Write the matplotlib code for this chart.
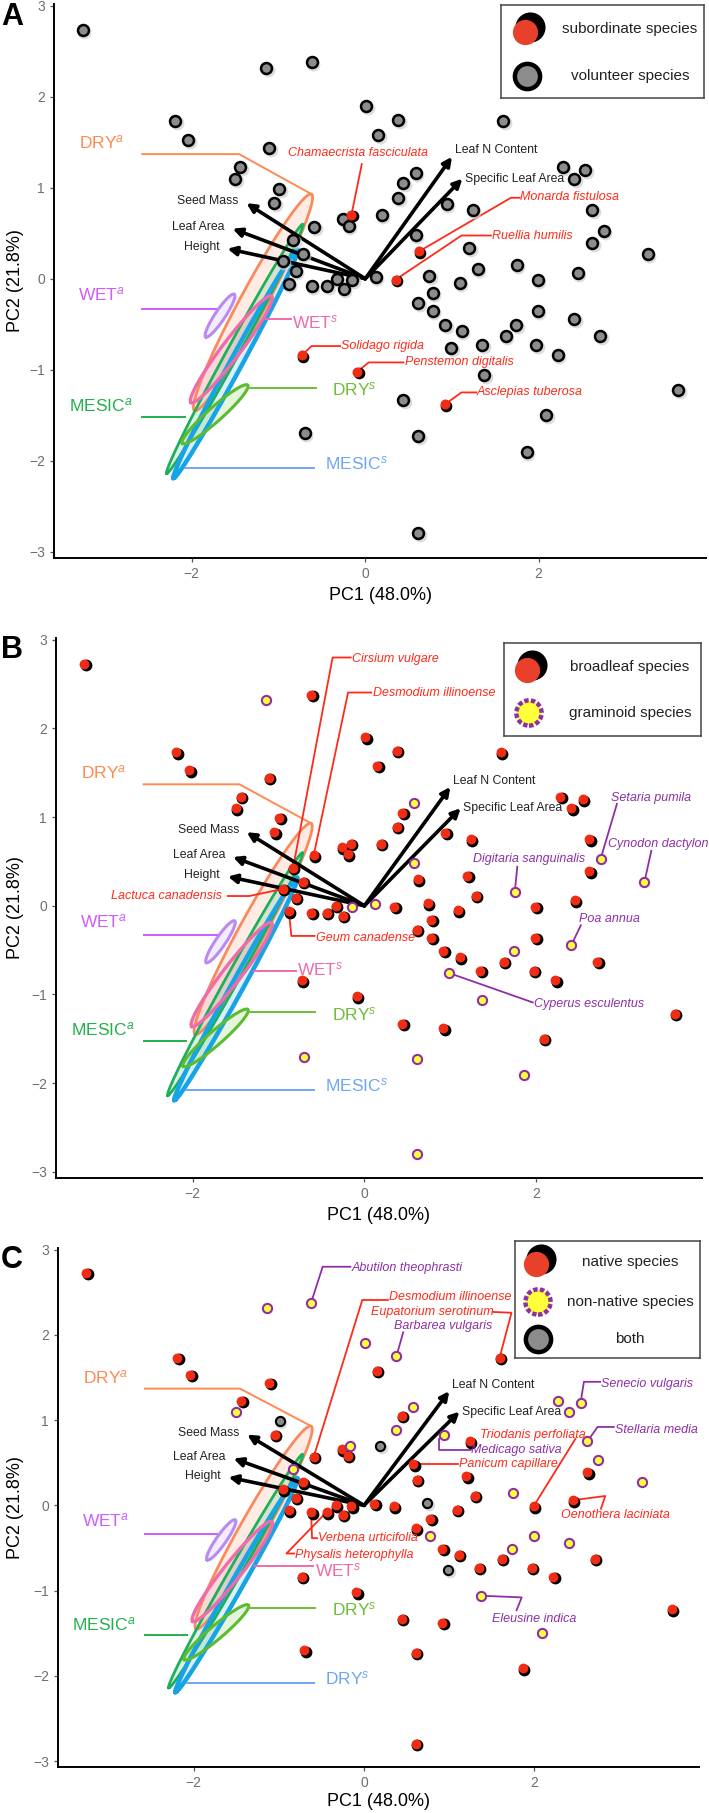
import numpy as np
import matplotlib
matplotlib.use("Agg")
import matplotlib.pyplot as plt
from matplotlib.transforms import offset_copy

plt.rcParams["font.family"] = ["Liberation Sans", "DejaVu Sans"]
plt.rcParams["mathtext.fontset"] = "custom"
plt.rcParams["mathtext.rm"] = "Liberation Sans"
plt.rcParams["mathtext.it"] = "Liberation Sans:italic"

W, H, DPI = 709, 1813, 100

# species scores (same ordination in every panel)
pc1 = [-3.26, -1.14, -0.62, 0.01, 0.38, 0.15, 1.59, -2.19, -2.04, -1.11,
       -1.44, -1.50, -0.99, -1.05, 0.58, 0.44, 0.38, 0.94, 0.19, -0.26,
       -0.19, -0.16, -0.59, -0.83, -0.72, -0.95, -0.80, -0.88, -0.62, -0.44,
       -0.33, -0.25, -0.15, 0.12, 0.35, 0.58, 0.62, 0.74, 0.78, 0.61,
       0.78, 0.92, 1.11, 1.09, 1.20, 1.30, 1.24, 1.75, 1.99, 1.99,
       1.74, 1.62, 1.35, 0.99, 1.97, 2.22, 2.41, 2.45, 2.62, 2.75,
       2.62, 2.28, 2.41, 2.54, 3.26, 2.71, 3.61, 1.37, 2.09, 1.86,
       0.61, 0.44, 0.92, -0.09, -0.73, -0.70, 0.61]
pc2 = [2.73, 2.32, 2.38, 1.90, 1.75, 1.58, 1.73, 1.73, 1.53, 1.44,
       1.23, 1.10, 0.99, 0.83, 1.16, 1.05, 0.89, 0.82, 0.70, 0.66,
       0.58, 0.70, 0.57, 0.43, 0.27, 0.19, 0.09, -0.06, -0.08, -0.08,
       0.00, -0.11, -0.01, 0.02, -0.01, 0.48, 0.30, 0.03, -0.16, -0.27,
       -0.36, -0.51, -0.58, -0.05, 0.34, 0.11, 0.75, 0.15, -0.01, -0.36,
       -0.51, -0.63, -0.73, -0.76, -0.73, -0.84, -0.44, 0.06, 0.39, 0.53,
       0.75, 1.23, 1.10, 1.20, 0.27, -0.63, -1.22, -1.06, -1.50, -1.91,
       -1.73, -1.33, -1.38, -1.02, -0.84, -1.70, -2.80]

# group membership (0-based indices into pc1/pc2)
subordinate = [21, 34, 36, 72, 73, 74]
graminoid = [1, 14, 32, 33, 35, 47, 50, 53, 56, 59, 64, 67, 69, 70, 75, 76]
non_native = [1, 2, 3, 4, 11, 14, 16, 17, 21, 23, 40, 47, 49, 50, 56, 59,
              60, 61, 62, 63, 64, 67, 68]
both_status = [12, 18, 37, 53]

# trait loadings
traits = ["Seed Mass", "Leaf Area", "Height", "Leaf N Content", "Specific Leaf Area"]
trait_x = [-1.37, -1.53, -1.59, 1.00, 1.12]
trait_y = [0.83, 0.55, 0.33, 1.34, 1.10]

# ellipse major-axis ends (data units)
ell_names = ["DRYa", "MESICa", "MESICs", "WETa", "WETs", "DRYs"]
ell_top = [(-0.62, 0.93), (-0.72, 0.60), (-0.78, 0.32), (-1.51, -0.17), (-1.08, -0.19), (-1.355, -1.17)]
ell_bot = [(-1.97, -1.45), (-2.29, -2.14), (-2.21, -2.19), (-1.84, -0.64), (-2.01, -1.36), (-2.11, -1.81)]

# labelled species: (name, point index, colour kind)
labels_a = [("Chamaecrista fasciculata", 21, "r"), ("Monarda fistulosa", 36, "r"),
            ("Ruellia humilis", 34, "r"), ("Solidago rigida", 74, "r"),
            ("Penstemon digitalis", 73, "r"), ("Asclepias tuberosa", 72, "r")]
labels_b = [("Cirsium vulgare", 23, "r"), ("Desmodium illinoense", 22, "r"),
            ("Lactuca canadensis", 25, "r"), ("Geum canadense", 27, "r"),
            ("Setaria pumila", 59, "p"), ("Cynodon dactylon", 64, "p"),
            ("Digitaria sanguinalis", 47, "p"), ("Poa annua", 56, "p"),
            ("Cyperus esculentus", 53, "p")]
labels_c = [("Abutilon theophrasti", 2, "p"), ("Desmodium illinoense", 22, "r"),
            ("Eupatorium serotinum", 6, "r"), ("Barbarea vulgaris", 4, "p"),
            ("Senecio vulgaris", 63, "p"), ("Stellaria media", 60, "p"),
            ("Triodanis perfoliata", 48, "r"), ("Medicago sativa", 17, "p"),
            ("Panicum capillare", 35, "r"), ("Oenothera laciniata", 57, "r"),
            ("Verbena urticifolia", 28, "r"), ("Physalis heterophylla", 29, "r"),
            ("Eleusine indica", 67, "p")]

# ---- layout / style ----
RED = "#F02C14"
PURP = "#8E2FA6"
LAB_RED = "#FF2A1A"
ELL_COL = {"DRYa": "#FA8A5C", "MESICa": "#1DAF5C", "MESICs": "#17A4E6",
           "WETa": "#B98AF2", "WETs": "#EE6CA8", "DRYs": "#5DBB2E"}
ELL_LW = {"DRYa": 2.0, "MESICa": 2.0, "MESICs": 3.2, "WETa": 2.2, "WETs": 2.4, "DRYs": 2.2}
ELL_HW = {"DRYa": 13, "MESICa": 6, "MESICs": 6, "WETa": 5, "WETs": 9, "DRYs": 7}

# text anchor + connector bends per label
lab_geom = {
    "A": {
        "Chamaecrista fasciculata": ((-0.08, 1.38), "center", [(-0.04, 1.26)]),
        "Monarda fistulosa": ((1.79, 0.90), "left", [(1.68, 0.89), (1.78, 0.89)]),
        "Ruellia humilis": ((1.46, 0.475), "left", [(1.11, 0.475), (1.45, 0.475)]),
        "Solidago rigida": ((-0.28, -0.74), "left", [(-0.62, -0.74), (-0.29, -0.74)]),
        "Penstemon digitalis": ((0.455, -0.91), "left", [(0.04, -0.92), (0.44, -0.92)]),
        "Asclepias tuberosa": ((1.29, -1.25), "left", [(1.11, -1.25), (1.28, -1.25)]),
    },
    "B": {
        "Cirsium vulgare": ((-0.14, 2.78), "left", [(-0.37, 2.80), (-0.16, 2.80)]),
        "Desmodium illinoense": ((0.10, 2.40), "left", [(-0.19, 2.405), (0.08, 2.405)]),
        "Lactuca canadensis": ((-1.66, 0.11), "right", [(-1.34, 0.11), (-1.59, 0.11)]),
        "Geum canadense": ((-0.56, -0.36), "left", [(-0.85, -0.34), (-0.58, -0.34)]),
        "Setaria pumila": ((2.87, 1.22), "left", [(2.94, 1.15)]),
        "Cynodon dactylon": ((2.84, 0.70), "left", [(3.34, 0.62)]),
        "Digitaria sanguinalis": ((1.27, 0.53), "left", [(1.78, 0.44)]),
        "Poa annua": ((2.50, -0.15), "left", [(2.52, -0.22)]),
        "Cyperus esculentus": ((1.97, -1.11), "left", [(1.96, -1.09)]),
    },
    "C": {
        "Abutilon theophrasti": ((-0.15, 2.78), "left", [(-0.485, 2.80), (-0.16, 2.80)]),
        "Desmodium illinoense": ((0.29, 2.44), "left", [(-0.02, 2.41), (0.28, 2.41)]),
        "Eupatorium serotinum": ((0.08, 2.27), "left", [(1.73, 2.26), (1.51, 2.27)]),
        "Barbarea vulgaris": ((0.35, 2.10), "left", [(0.46, 2.03)]),
        "Senecio vulgaris": ((2.78, 1.43), "left", [(2.58, 1.45), (2.77, 1.45)]),
        "Stellaria media": ((2.94, 0.89), "left", [(2.74, 0.92), (2.93, 0.92)]),
        "Triodanis perfoliata": ((1.36, 0.82), "left", [(2.48, 0.78)]),
        "Medicago sativa": ((1.26, 0.65), "left", [(0.88, 0.78), (0.88, 0.65), (1.25, 0.65)]),
        "Panicum capillare": ((1.11, 0.48), "left", [(1.10, 0.48)]),
        "Oenothera laciniata": ((2.31, -0.11), "left", [(2.83, 0.11), (2.78, -0.04)]),
        "Verbena urticifolia": ((-0.54, -0.385), "left", [(-0.61, -0.385), (-0.55, -0.385)]),
        "Physalis heterophylla": ((-0.81, -0.585), "left", [(-0.91, -0.565), (-0.82, -0.565)]),
        "Eleusine indica": ((1.50, -1.33), "left", [(1.85, -1.08), (1.79, -1.23)]),
    },
}

fig = plt.figure(figsize=(W / DPI, H / DPI), dpi=DPI)


def px_axes(l, t, r, b):
    return fig.add_axes([l / W, 1 - b / H, (r - l) / W, (b - t) / H])


def ellipse_xy(p1, p2, half_w, sx=86.0, sy=89.0):
    p1, p2 = np.array(p1), np.array(p2)
    c = (p1 + p2) / 2
    a = (p2 - p1) / 2
    a_px = a * [sx, sy]
    perp = np.array([-a_px[1], a_px[0]]) / np.hypot(*a_px) * half_w
    b = perp / [sx, sy]
    t = np.linspace(0, 2 * np.pi, 200)
    return c[0] + a[0] * np.cos(t) + b[0] * np.sin(t), c[1] + a[1] * np.cos(t) + b[1] * np.sin(t)


def draw_red(ax, xs, ys, big=72, small=50, dx=1.4):
    sh = offset_copy(ax.transData, fig=fig, x=dx, y=-dx, units="dots")
    ax.scatter(xs, ys, s=big, c="black", lw=0, transform=sh, zorder=5)
    ax.scatter(xs, ys, s=small, c=RED, lw=0, zorder=6)


def draw_grey(ax, xs, ys, s=62, lw=1.8):
    sh = offset_copy(ax.transData, fig=fig, x=1.5, y=-2.0, units="dots")
    ax.scatter(xs, ys, s=s * 1.6, c="#cfcfcf", lw=0, alpha=0.7, transform=sh, zorder=5)
    ax.scatter(xs, ys, s=s, c="#8c8c8c", edgecolors="black", linewidths=lw, zorder=6)


def draw_yellow(ax, xs, ys, s=44):
    ax.scatter(xs, ys, s=s, c="#FFFF3A", edgecolors=PURP, linewidths=1.5, zorder=7)


def base_panel(ax, wet_s_pos, wet_s_line, bottom_text):
    ax.set_xlim(-3.59, 3.93)
    ax.set_ylim(-3.07, 3.02)
    for s in ["top", "right"]:
        ax.spines[s].set_visible(False)
    for s in ["left", "bottom"]:
        ax.spines[s].set_linewidth(1.4)
        ax.spines[s].set_color("black")
    ax.set_xticks([-2, 0, 2])
    ax.set_yticks([-3, -2, -1, 0, 1, 2, 3])
    ax.tick_params(length=3, width=0.9, colors="#555555", labelcolor="#6e6e6e", labelsize=10)
    ax.set_facecolor("none")

    # ellipses
    for name, p1, p2 in zip(ell_names, ell_top, ell_bot):
        ex, ey = ellipse_xy(p1, p2, ELL_HW[name])
        ax.fill(ex, ey, color=ELL_COL[name], alpha=0.16, lw=0, zorder=1)
        ax.plot(ex, ey, color=ELL_COL[name], lw=ELL_LW[name], zorder=2)

    # group labels
    groups = [
        ("DRY$^a$", "#FF8A52", (-3.30, 1.50), [(-2.57, 1.37), (-1.455, 1.37), (-0.62, 0.93)]),
        ("WET$^a$", "#CC5CFF", (-3.31, -0.17), [(-2.57, -0.335), (-1.72, -0.335)]),
        ("MESIC$^a$", "#22B04B", (-3.42, -1.39), [(-2.57, -1.52), (-2.08, -1.52)]),
        ("WET$^s$", "#F06BA8", wet_s_pos, wet_s_line),
        ("DRY$^s$", "#6DBE3A", (-0.38, -1.22), [(-1.35, -1.20), (-0.57, -1.20)]),
        (bottom_text, "#6EA6F7", (-0.46, -2.03), [(-2.08, -2.08), (-0.59, -2.08)]),
    ]
    for txt, col, pos, line in groups:
        lx, ly = zip(*line)
        ax.plot(lx, ly, color=col, lw=1.4, zorder=3)
        ax.text(pos[0], pos[1], txt, color=col, fontsize=12.5, ha="left", va="center", zorder=9)

    # trait arrows
    for name, tx, ty in zip(traits, trait_x, trait_y):
        ax.annotate("", xy=(tx, ty), xytext=(0, 0),
                    arrowprops=dict(arrowstyle="-|>", color="black", lw=2.6,
                                    mutation_scale=13, shrinkA=0, shrinkB=0), zorder=4)
    for name, tx, ty in zip(traits, trait_x, trait_y):
        if tx < 0:
            ax.text(tx - 0.09, ty + 0.02, name, ha="right", va="center", fontsize=8.8,
                    color="#222222", zorder=9)
        else:
            ax.text(tx + 0.03, ty + 0.07 if name.startswith("Leaf") else ty, name,
                    ha="left", va="center", fontsize=8.8, color="#222222", zorder=9)


def species_labels(ax, panel, labs):
    for name, idx, kind in labs:
        pos, ha, bends = lab_geom[panel][name]
        col = LAB_RED if kind == "r" else PURP
        path = [(pc1[idx], pc2[idx])] + bends
        lx, ly = zip(*path)
        ax.plot(lx, ly, color=col, lw=1.3, zorder=3)
        ax.text(pos[0], pos[1], name, color=col, fontsize=9, style="italic",
                ha=ha, va="center", zorder=9)


def legend(l, t, r, b, entries):
    lax = px_axes(l, t, r, b)
    lax.set_xlim(l, r)
    lax.set_ylim(b, t)
    lax.set_xticks([])
    lax.set_yticks([])
    for s in lax.spines.values():
        s.set_color("#444444")
        s.set_linewidth(1.1)
    for kind, text, yy, sx in entries:
        if kind == "red":
            up = offset_copy(lax.transData, fig=fig, x=2.5, y=2.5, units="dots")
            dn = offset_copy(lax.transData, fig=fig, x=-2.5, y=-2.5, units="dots")
            lax.scatter([sx], [yy], s=470, c="black", lw=0, transform=up)
            lax.scatter([sx], [yy], s=330, c="#E8402A", lw=0, transform=dn)
        elif kind == "grey":
            lax.scatter([sx], [yy], s=330, c="#8c8c8c", edgecolors="black", linewidths=3.2)
        elif kind == "yellow":
            lax.scatter([sx], [yy], s=330, c="#FFFF3A", edgecolors=PURP, linewidths=3.2,
                        linestyles=(0, (1.0, 0.5)))
        lax.text(630, yy, text, ha="center", va="center", fontsize=11, color="#222222")


def xy_label(l, t, r, b, xlab_y):
    fig.text(16 / W, 1 - (t + b) / 2 / H, "PC2 (21.8%)", rotation=90, ha="center",
             va="center", fontsize=13)
    fig.text((l + r) / 2 / W, 1 - xlab_y / H, "PC1 (48.0%)", ha="center", va="center",
             fontsize=13)


# ---------- panel A ----------
rectA = (54, 4, 706, 558)
axA = px_axes(*rectA)
base_panel(axA, (-0.84, -0.48), [(-1.14, -0.44), (-0.855, -0.44)], "MESIC$^s$")
grey_idx = [i for i in range(len(pc1)) if i not in subordinate]
draw_grey(axA, [pc1[i] for i in grey_idx], [pc2[i] for i in grey_idx])
draw_red(axA, [pc1[i] for i in subordinate], [pc2[i] for i in subordinate], big=70, small=52)
species_labels(axA, "A", labels_a)
legend(501, 5, 704, 98, [("red", "subordinate species", 29, 527),
                         ("grey", "volunteer species", 76, 527)])
xy_label(*rectA, 596)
fig.text(1 / W, 1 - 17 / H, "A", fontsize=22, fontweight="bold", ha="left", va="center")

# ---------- panel B ----------
rectB = (56, 638, 702, 1178)
axB = px_axes(*rectB)
base_panel(axB, (-0.79, -0.72), [(-1.29, -0.74), (-0.80, -0.74)], "MESIC$^s$")
broad_idx = [i for i in range(len(pc1)) if i not in graminoid]
draw_red(axB, [pc1[i] for i in broad_idx], [pc2[i] for i in broad_idx])
draw_yellow(axB, [pc1[i] for i in graminoid], [pc2[i] for i in graminoid])
species_labels(axB, "B", labels_b)
legend(504, 643, 701, 736, [("red", "broadleaf species", 667, 529),
                            ("yellow", "graminoid species", 713, 529)])
xy_label(*rectB, 1215)
fig.text(1 / W, 1 - 650 / H, "B", fontsize=22, fontweight="bold", ha="left", va="center")

# ---------- panel C ----------
rectC = (58, 1248, 699, 1767)
axC = px_axes(*rectC)
base_panel(axC, (-0.57, -0.76), [(-1.29, -0.71), (-0.60, -0.71)], "DRY$^s$")
native_idx = [i for i in range(len(pc1)) if i not in non_native and i not in both_status]
draw_red(axC, [pc1[i] for i in native_idx], [pc2[i] for i in native_idx])
draw_grey(axC, [pc1[i] for i in both_status], [pc2[i] for i in both_status], s=44, lw=1.5)
draw_yellow(axC, [pc1[i] for i in non_native], [pc2[i] for i in non_native])
species_labels(axC, "C", labels_c)
legend(515, 1241, 700, 1358, [("red", "native species", 1262, 538),
                              ("yellow", "non-native species", 1302, 538),
                              ("grey", "both", 1339, 538)])
xy_label(*rectC, 1802)
fig.text(1 / W, 1 - 1260 / H, "C", fontsize=22, fontweight="bold", ha="left", va="center")

fig.savefig("out.png", dpi=DPI)
